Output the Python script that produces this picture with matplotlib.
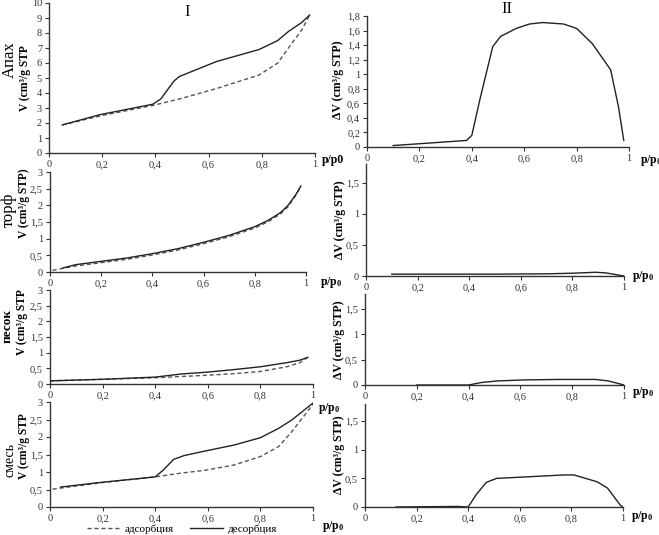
import matplotlib
matplotlib.use("Agg")
import matplotlib.pyplot as plt
from matplotlib.ticker import FuncFormatter

plt.rcParams['font.family'] = ['Liberation Serif', 'DejaVu Serif']
plt.rcParams['mathtext.fontset'] = 'custom'
plt.rcParams['mathtext.rm'] = 'Liberation Serif:bold'
plt.rcParams['mathtext.it'] = 'Liberation Serif:bold'

# ---- data ----
samples = ['Апах', 'торф', 'песок', 'смесь']

# Апах
apah_ads_x = [0.05, 0.2, 0.39, 0.49, 0.63, 0.79, 0.86, 0.9, 0.95, 0.98]
apah_ads_y = [1.87, 2.5, 3.17, 3.6, 4.3, 5.2, 6.0, 7.0, 8.2, 9.2]
apah_des_x = [0.05, 0.19, 0.39, 0.42, 0.47, 0.49, 0.63, 0.79, 0.86, 0.9, 0.95, 0.98]
apah_des_y = [1.87, 2.55, 3.25, 3.6, 4.8, 5.1, 6.1, 6.9, 7.5, 8.1, 8.7, 9.2]
apah_dv_x = [0.1, 0.24, 0.38, 0.4, 0.43, 0.48, 0.51, 0.57, 0.62, 0.67, 0.75, 0.8, 0.86, 0.93, 0.96, 0.98]
apah_dv_y = [0.02, 0.055, 0.09, 0.16, 0.64, 1.38, 1.52, 1.63, 1.69, 1.71, 1.69, 1.63, 1.42, 1.06, 0.55, 0.09]

# торф
torf_ads_x = [0.01, 0.1, 0.2, 0.3, 0.4, 0.5, 0.6, 0.7, 0.8, 0.85, 0.9, 0.93, 0.96, 0.98]
torf_ads_y = [0.05, 0.18, 0.28, 0.38, 0.51, 0.66, 0.85, 1.06, 1.32, 1.5, 1.74, 1.96, 2.3, 2.58]
torf_des_x = [0.05, 0.1, 0.2, 0.3, 0.4, 0.5, 0.6, 0.7, 0.8, 0.85, 0.9, 0.93, 0.96, 0.98]
torf_des_y = [0.12, 0.22, 0.32, 0.42, 0.55, 0.7, 0.89, 1.1, 1.36, 1.54, 1.78, 2.0, 2.32, 2.58]
torf_dv_x = [0.1, 0.3, 0.5, 0.7, 0.8, 0.89, 0.93, 1.0]
torf_dv_y = [0.03, 0.03, 0.03, 0.035, 0.045, 0.06, 0.05, 0.0]

# песок
pesok_ads_x = [0.0, 0.2, 0.4, 0.5, 0.6, 0.7, 0.8, 0.9, 0.95, 0.98]
pesok_ads_y = [0.1, 0.15, 0.2, 0.24, 0.28, 0.33, 0.4, 0.55, 0.68, 0.85]
pesok_des_x = [0.0, 0.2, 0.4, 0.5, 0.6, 0.7, 0.8, 0.9, 0.95, 0.98]
pesok_des_y = [0.1, 0.15, 0.22, 0.32, 0.38, 0.46, 0.55, 0.68, 0.76, 0.85]
pesok_dv_x = [0.2, 0.4, 0.45, 0.51, 0.61, 0.75, 0.89, 0.94, 1.0]
pesok_dv_y = [0.0, 0.0, 0.05, 0.08, 0.1, 0.11, 0.11, 0.08, 0.0]

# смесь
smes_ads_x = [0.01, 0.2, 0.4, 0.49, 0.59, 0.7, 0.8, 0.87, 0.92, 0.97, 1.0]
smes_ads_y = [0.51, 0.7, 0.86, 0.96, 1.05, 1.2, 1.44, 1.73, 2.16, 2.64, 2.94]
smes_des_x = [0.04, 0.19, 0.4, 0.43, 0.47, 0.51, 0.59, 0.7, 0.8, 0.87, 0.92, 1.0]
smes_des_y = [0.57, 0.7, 0.86, 1.05, 1.36, 1.47, 1.6, 1.77, 1.98, 2.25, 2.49, 2.97]
smes_dv_x = [0.12, 0.36, 0.4, 0.43, 0.47, 0.51, 0.64, 0.77, 0.81, 0.9, 0.94, 0.99, 1.0]
smes_dv_y = [0.0, 0.01, 0.0, 0.21, 0.43, 0.5, 0.53, 0.56, 0.56, 0.44, 0.33, 0.03, 0.0]

x_ticks = [0, 0.2, 0.4, 0.6, 0.8, 1]

ads = [(apah_ads_x, apah_ads_y), (torf_ads_x, torf_ads_y), (pesok_ads_x, pesok_ads_y), (smes_ads_x, smes_ads_y)]
des = [(apah_des_x, apah_des_y), (torf_des_x, torf_des_y), (pesok_des_x, pesok_des_y), (smes_des_x, smes_des_y)]
dvs = [(apah_dv_x, apah_dv_y), (torf_dv_x, torf_dv_y), (pesok_dv_x, pesok_dv_y), (smes_dv_x, smes_dv_y)]

W, H = 659, 535
fig = plt.figure(figsize=(W / 100, H / 100), dpi=100)

def px_axes(l, r, t, b):
    return fig.add_axes([l / W, 1 - b / H, (r - l) / W, (b - t) / H])

# pixel boxes (left, right, top, bottom)
left_boxes = [(49, 315, 3, 153), (50, 306, 172, 272), (50, 313, 290, 384), (50, 313, 402, 507)]
right_boxes = [(367, 629, 16, 147), (366, 624, 164, 276), (365, 624, 294, 385), (365, 623, 404, 507)]
left_ylim = [(0, 10), (0, 3), (0, 3), (0, 3)]
left_yticks = [list(range(0, 11)), [0, 0.5, 1, 1.5, 2, 2.5, 3], [0, 0.5, 1, 1.5, 2, 2.5, 3], [0, 0.5, 1, 1.5, 2, 2.5, 3]]
right_yticks = [[0, 0.2, 0.4, 0.6, 0.8, 1, 1.2, 1.4, 1.6, 1.8], [0, 0.5, 1, 1.5], [0, 0.5, 1, 1.5], [0, 0.5, 1, 1.5]]

comma = FuncFormatter(lambda v, p: ('%g' % v).replace('.', ','))

def style(ax):
    for s in ['top', 'right']:
        ax.spines[s].set_visible(False)
    for s in ['left', 'bottom']:
        ax.spines[s].set_color('#333333')
        ax.spines[s].set_linewidth(1.0)
    ax.tick_params(direction='out', length=3, width=0.8, labelsize=7.5, pad=2, colors='#333333')
    ax.xaxis.set_major_formatter(comma)
    ax.yaxis.set_major_formatter(comma)
    ax.set_xlim(0, 1)
    ax.set_xticks(x_ticks)

line_ads = line_des = None
for i in range(4):
    ax = px_axes(*left_boxes[i])
    line_ads, = ax.plot(*ads[i], ls=(0, (3, 2)), color='#555555', lw=1.0, label='адсорбция')
    line_des, = ax.plot(*des[i], ls='-', color='#222222', lw=1.0, label='десорбция')
    style(ax)
    ax.set_ylim(*left_ylim[i])
    ax.set_yticks(left_yticks[i])

    ax2 = px_axes(*right_boxes[i])
    ax2.plot(*dvs[i], color='#222222', lw=1.0)
    style(ax2)
    ax2.set_ylim(0, 1.8)
    ax2.set_yticks(right_yticks[i])

# sample names and y labels (pixel positions)
name_pos = [(10, 60, 12), (9, 210, 12), (8, 326, 9.5), (10, 460, 10)]
v_pos = [(25, 78, 'V (cm³/g STP'), (24, 203, 'V (cm³/g STP)'), (22, 322, 'V (cm³/g STP'), (24, 446, 'V (cm³/g STP')]
for i in range(4):
    x, y, fs = name_pos[i]
    fig.text(x / W, 1 - y / H, samples[i], rotation=90, ha='center', va='center', fontsize=fs,
             fontweight='bold' if i == 2 else 'normal')
    x, y, t = v_pos[i]
    fig.text(x / W, 1 - y / H, t, rotation=90, ha='center', va='center', fontsize=8.3, fontweight='bold')

dv_pos = [(338, 80), (340, 220), (339, 340), (339, 455)]
for x, y in dv_pos:
    fig.text(x / W, 1 - y / H, 'ΔV (cm³/g STP)', rotation=90, ha='center', va='center',
             fontsize=8.5, fontweight='bold')

# p/p0 labels
pp_pos = [(322, 160, 'p/p0'), (640, 160, 'p/p$_0$'), (320, 283, 'p/p$_0$'), (632, 277, 'p/p$_0$'),
          (318, 408, 'p/p$_0$'), (632, 392, 'p/p$_0$'), (322, 527, 'p/p$_0$'), (631, 517, 'p/p$_0$')]
for x, y, t in pp_pos:
    fig.text(x / W, 1 - y / H, t, ha='left', va='center', fontsize=8.5, fontweight='bold')

fig.text(187 / W, 1 - 12 / H, 'I', ha='center', va='center', fontsize=12)
fig.text(507 / W, 1 - 9 / H, 'II', ha='center', va='center', fontsize=12)

fig.legend(handles=[line_ads, line_des], loc='center', bbox_to_anchor=(182 / W, 1 - 529 / H),
           ncol=2, frameon=False, fontsize=8, handlelength=3.0, columnspacing=1.4,
           handletextpad=0.4, borderpad=0)

fig.savefig('out.png', dpi=100)
